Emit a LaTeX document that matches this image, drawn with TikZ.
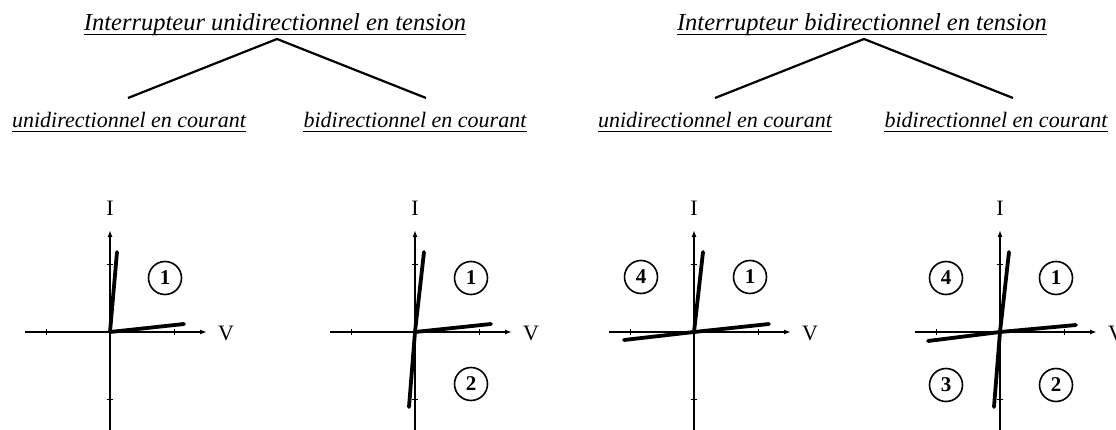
\documentclass[tikz,border=0pt]{standalone}
\usepackage{fontspec}
\setmainfont{Liberation Serif}
\usetikzlibrary{arrows.meta,calc}
\tikzset{
  head/.style={inner sep=0pt, anchor=base, font=\fontsize{24.5}{28}\selectfont\itshape},
  sub/.style={inner sep=0pt, anchor=base, font=\fontsize{22}{26}\selectfont\itshape},
  uline/.style={line width=1.4pt},
  tree/.style={line width=2.2pt},
  axis/.style={line width=1.4pt, -{Latex[length=7pt,width=5pt]}},
  axisplain/.style={line width=1.4pt},
  tick/.style={line width=1pt},
  charac/.style={line width=3.8pt, line cap=round},
  num/.style={circle, draw, line width=1.6pt, minimum size=33pt, inner sep=0pt, font=\fontsize{21}{22}\selectfont\bfseries},
  lab/.style={inner sep=0pt, font=\fontsize{22}{23}\selectfont},
  axes/.pic={
    \coordinate (-o) at (0,0);
    \coordinate (-l) at (-85,0);
    \coordinate (-r) at (97,0);
    \coordinate (-t) at (0,-102);
    \coordinate (-b) at (0,100);
    \draw[axis] (-l) -- (-r);
    \draw[axisplain] (-b) -- (-o);
    \draw[axis] (-o) -- (-t);
    \draw[tick] (-64,-3) -- (-64,3);
    \draw[tick] (64,-3) -- (64,3);
    \draw[tick] (-3,-67) -- (3,-67);
    \draw[tick] (-3,67) -- (3,67);
    \node[lab] (-I) at (0,-124) {I};
    \node[lab] (-V) at (116,1) {V};
  }
}
\begin{document}
\begin{tikzpicture}[x=1pt,y=-1pt]
\useasboundingbox (0,0) rectangle (1116,430);

% ---- headings ----
\node[head] (h1) at (275,31) {Interrupteur unidirectionnel en tension};
\node[head] (h2) at (862,31) {Interrupteur bidirectionnel en tension};
\draw[uline] ([yshift=-3.5pt]h1.base west) -- ([yshift=-3.5pt]h1.base east);
\draw[uline] ([yshift=-3.5pt]h2.base west) -- ([yshift=-3.5pt]h2.base east);

\coordinate (a1) at (277,39);
\coordinate (a2) at (864,39);
\coordinate (e11) at (128,98);
\coordinate (e12) at (426,98);
\coordinate (e21) at (715,98);
\coordinate (e22) at (1013,98);
\draw[tree] (e11) -- (a1) -- (e12);
\draw[tree] (e21) -- (a2) -- (e22);

\node[sub] (s11) at (129,128) {unidirectionnel en courant};
\node[sub] (s12) at (415,128) {bidirectionnel en courant};
\node[sub] (s21) at (715,128) {unidirectionnel en courant};
\node[sub] (s22) at (996,128) {bidirectionnel en courant};
\foreach \s in {s11,s12,s21,s22}{
  \draw[uline] ([yshift=-3.5pt]\s.base west) -- ([yshift=-3.5pt]\s.base east);
}

% ---- graphs ----
\pic (g1) at (110,332) {axes};
\pic (g2) at (415,332) {axes};
\pic (g3) at (694,332) {axes};
\pic (g4) at (1000,332) {axes};

% graph 1
\draw[charac] (g1-o) -- ++(7,-80);
\draw[charac] (g1-o) -- ++(74,-8);
\node[num] (n1a) at ($(g1-o)+(55,-54)$) {1};

% graph 2
\draw[charac] (g2-o) -- ++(9,-80);
\draw[charac] (g2-o) -- ++(-6,75);
\draw[charac] (g2-o) -- ++(76,-8);
\node[num] (n2a) at ($(g2-o)+(56,-54)$) {1};
\node[num] (n2b) at ($(g2-o)+(56,52)$) {2};

% graph 3
\draw[charac] (g3-o) -- ++(9,-80);
\draw[charac] (g3-o) -- ++(75,-8);
\draw[charac] (g3-o) -- ++(-70,8);
\node[num] (n3a) at ($(g3-o)+(56,-55)$) {1};
\node[num] (n3d) at ($(g3-o)+(-53,-55)$) {4};

% graph 4
\draw[charac] (g4-o) -- ++(9,-80);
\draw[charac] (g4-o) -- ++(-6,75);
\draw[charac] (g4-o) -- ++(76,-7);
\draw[charac] (g4-o) -- ++(-72,9);
\node[num] (n4a) at ($(g4-o)+(56,-54)$) {1};
\node[num] (n4b) at ($(g4-o)+(56,53)$) {2};
\node[num] (n4c) at ($(g4-o)+(-54,53)$) {3};
\node[num] (n4d) at ($(g4-o)+(-54,-54)$) {4};
\end{tikzpicture}
\end{document}
